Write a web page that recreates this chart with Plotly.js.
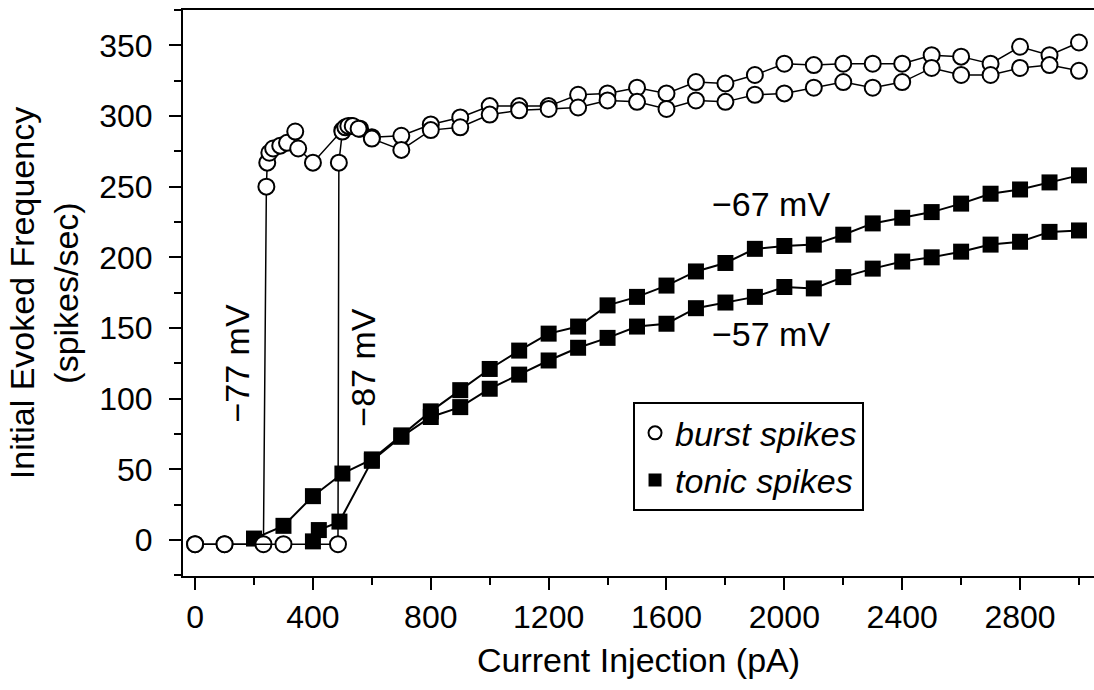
<!DOCTYPE html>
<html>
<head>
<meta charset="utf-8">
<script src="https://cdn.plot.ly/plotly-3.0.1.min.js"></script>
<style>
  html, body { margin: 0; padding: 0; background: #fff; overflow: hidden; }
  #chart { width: 1094px; height: 690px; }
</style>
</head>
<body>
<div id="chart"></div>
<script>
// Burst spikes, holding potential -77 mV (pA, spikes/sec)
const burst77X = [0, 100, 232, 242, 245, 252, 265, 289, 312, 340, 350, 400, 500, 530, 560, 600,
  700, 800, 900, 1000, 1100, 1200, 1300, 1400, 1500, 1600, 1700, 1800, 1900, 2000,
  2100, 2200, 2300, 2400, 2500, 2600, 2700, 2800, 2900, 3000];
const burst77Y = [-3, -3, -3, 250, 267, 274, 277, 279, 281, 289, 277, 267, 290, 293, 291, 285,
  286, 294, 299, 307, 307, 307, 315, 316, 320, 316, 324, 323, 329, 337,
  336, 337, 337, 337, 343, 342, 337, 349, 343, 352];

// Burst spikes, holding potential -87 mV
const burst87X = [0, 100, 300, 485, 488, 500, 510, 520, 535, 555, 600,
  700, 800, 900, 1000, 1100, 1200, 1300, 1400, 1500, 1600, 1700, 1800, 1900, 2000,
  2100, 2200, 2300, 2400, 2500, 2600, 2700, 2800, 2900, 3000];
const burst87Y = [-3, -3, -3, -3, 267, 289, 292, 293, 293, 291, 284,
  276, 290, 292, 301, 304, 305, 306, 311, 310, 305, 311, 310, 315, 316,
  320, 324, 320, 324, 334, 329, 329, 334, 336, 332];

// Tonic spikes, holding potential -67 mV
const tonic67X = [200, 300, 400, 500, 600, 700, 800, 900, 1000, 1100, 1200, 1300, 1400, 1500,
  1600, 1700, 1800, 1900, 2000, 2100, 2200, 2300, 2400, 2500, 2600, 2700, 2800, 2900, 3000];
const tonic67Y = [1, 10, 31, 47, 57, 74, 91, 106, 121, 134, 146, 151, 166, 172,
  180, 190, 196, 206, 208, 209, 216, 224, 228, 232, 238, 245, 248, 253, 258];

// Tonic spikes, holding potential -57 mV
const tonic57X = [400, 420, 490, 600, 700, 800, 900, 1000, 1100, 1200, 1300, 1400, 1500,
  1600, 1700, 1800, 1900, 2000, 2100, 2200, 2300, 2400, 2500, 2600, 2700, 2800, 2900, 3000];
const tonic57Y = [-1, 7, 13, 56, 73, 87, 94, 107, 117, 127, 136, 143, 151,
  153, 164, 168, 172, 179, 178, 186, 192, 197, 200, 204, 209, 211, 218, 219];

// Curve labels: [text, x (pA), y (spikes/sec), rotation]
const curveLabels = [
  ['\u221277 mV', 143, 125, -90],
  ['\u221287 mV', 567, 122, -90],
  ['\u221267 mV', 1955, 238, 0],
  ['\u221257 mV', 1955, 146, 0]
];

const FONT = 'Liberation Sans, Arial, Helvetica, sans-serif';

const tonicStyle = {
  mode: 'lines+markers', showlegend: false, hoverinfo: 'skip',
  line: { color: '#000', width: 2 },
  marker: { symbol: 'square', size: 16, color: '#000', line: { color: '#000', width: 0 } }
};
const burstStyle = {
  mode: 'lines+markers', showlegend: false, hoverinfo: 'skip',
  line: { color: '#000', width: 1.5 },
  marker: { symbol: 'circle', size: 16, color: '#fff', line: { color: '#000', width: 2 } }
};

const traces = [
  Object.assign({ x: tonic67X, y: tonic67Y }, tonicStyle),
  Object.assign({ x: tonic57X, y: tonic57Y }, tonicStyle),
  Object.assign({ x: burst77X, y: burst77Y }, burstStyle),
  Object.assign({ x: burst87X, y: burst87Y }, burstStyle),
  // legend keys
  { x: [null], y: [null], mode: 'markers', name: 'burst spikes', showlegend: true,
    marker: { symbol: 'circle', size: 13, color: '#fff', line: { color: '#000', width: 2 } } },
  { x: [null], y: [null], mode: 'markers', name: 'tonic spikes', showlegend: true,
    marker: { symbol: 'square', size: 13, color: '#000' } }
];

const annotations = curveLabels.map(([t, x, y, rot]) => ({
  text: t, x: x, y: y, xref: 'x', yref: 'y', showarrow: false, textangle: rot,
  font: { family: FONT, size: 34, color: '#000' }
}));

const layout = {
  width: 1094, height: 690,
  margin: { l: 183, r: 0, t: 10, b: 114 },
  paper_bgcolor: '#fff', plot_bgcolor: '#fff',
  font: { family: FONT, color: '#000', size: 32 },
  showlegend: true,
  legend: {
    x: 0.494, y: 0.307, xanchor: 'left', yanchor: 'top',
    bgcolor: '#fff', bordercolor: '#000', borderwidth: 2,
    font: { family: FONT, size: 34, style: 'italic', color: '#000' },
    tracegroupgap: 0
  },
  xaxis: {
    range: [-41, 3051], showgrid: false, zeroline: false,
    showline: true, linecolor: '#000', linewidth: 2, mirror: true,
    ticks: 'outside', tickvals: [0, 400, 800, 1200, 1600, 2000, 2400, 2800],
    ticklen: 12, tickwidth: 2, tickcolor: '#000',
    minor: { tickvals: [200, 600, 1000, 1400, 1800, 2200, 2600, 3000], ticks: 'outside', ticklen: 7, tickwidth: 2, tickcolor: '#000' },
    tickfont: { family: FONT, size: 32, color: '#000' },
    title: { text: 'Current Injection (pA)', font: { family: FONT, size: 34, color: '#000' }, standoff: 14 }
  },
  yaxis: {
    range: [-25.5, 375], showgrid: false, zeroline: false,
    showline: true, linecolor: '#000', linewidth: 2, mirror: false,
    ticks: 'outside', dtick: 50, tick0: 0,
    ticklen: 12, tickwidth: 2, tickcolor: '#000', ticklabelstandoff: 10,
    minor: { dtick: 25, tick0: 0, ticks: 'outside', ticklen: 7, tickwidth: 2, tickcolor: '#000' },
    tickfont: { family: FONT, size: 32, color: '#000' },
    title: { text: 'Initial Evoked Frequency<br>(spikes/sec)', font: { family: FONT, size: 34, color: '#000' }, standoff: 10 }
  },
  annotations: annotations
};

Plotly.newPlot('chart', traces, layout, { staticPlot: true, displayModeBar: false });
</script>
</body>
</html>
